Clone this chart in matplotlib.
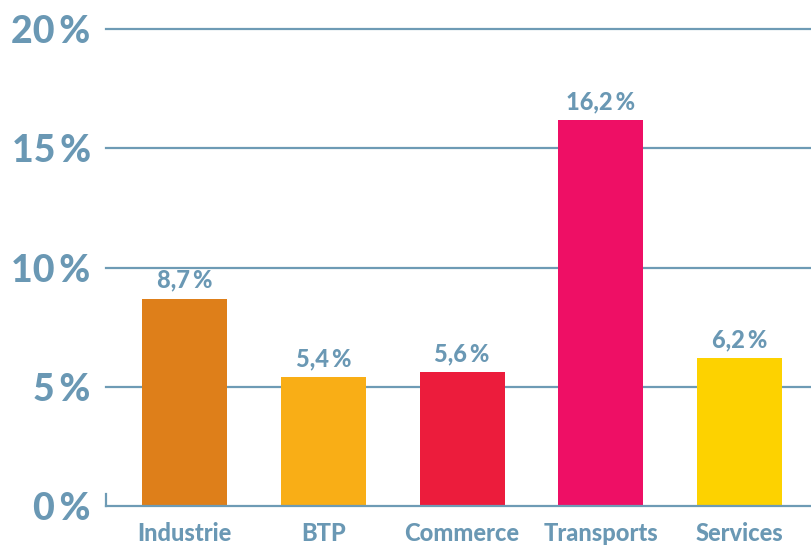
import matplotlib.pyplot as plt

plt.rcParams['font.family'] = ['Lato', 'DejaVu Sans']

# data
categories = ['Industrie', 'BTP', 'Commerce', 'Transports', 'Services']
values = [8.7, 5.4, 5.6, 16.2, 6.2]
colors = ['#DE7F1A', '#F9AE16', '#EC1C3C', '#EE0F65', '#FDD200']
yticks = [0, 5, 10, 15, 20]

text_col = '#6A98B4'
line_col = '#6E9BB5'

fig = plt.figure(figsize=(8.11, 5.45), dpi=100)
ax = fig.add_axes([106 / 811, 39 / 545, 705 / 811, 477 / 545])

x = list(range(len(categories)))
ax.set_xlim(-0.566, 4.515)
ax.set_ylim(0, 20)

# horizontal lines
for t in yticks:
    ax.axhline(t, color=line_col, lw=1.6, zorder=1 if t else 3, clip_on=False)
# small left tick at the bottom
ax.plot([-0.566, -0.566], [0, 0.5], color=line_col, lw=1.6, clip_on=False, zorder=3)

ax.bar(x, values, width=0.613, color=colors, zorder=2)

for xi, v in zip(x, values):
    ax.text(xi, v + 0.28, ('%.1f' % v).replace('.', ',') + '\u2009%',
            ha='center', va='bottom', fontsize=17, fontweight='black', color=text_col)

ax.set_xticks(x)
ax.set_xticklabels(categories, fontsize=17, fontweight='black', color=text_col)
ax.tick_params(axis='x', length=0, pad=11.5)

ax.set_yticks(yticks)
ax.set_yticklabels(['%d\u2009%%' % t for t in yticks], fontsize=27, fontweight='black', color=text_col)
ax.tick_params(axis='y', length=0, pad=11)

for s in ax.spines.values():
    s.set_visible(False)

fig.savefig('out.png', dpi=100)
